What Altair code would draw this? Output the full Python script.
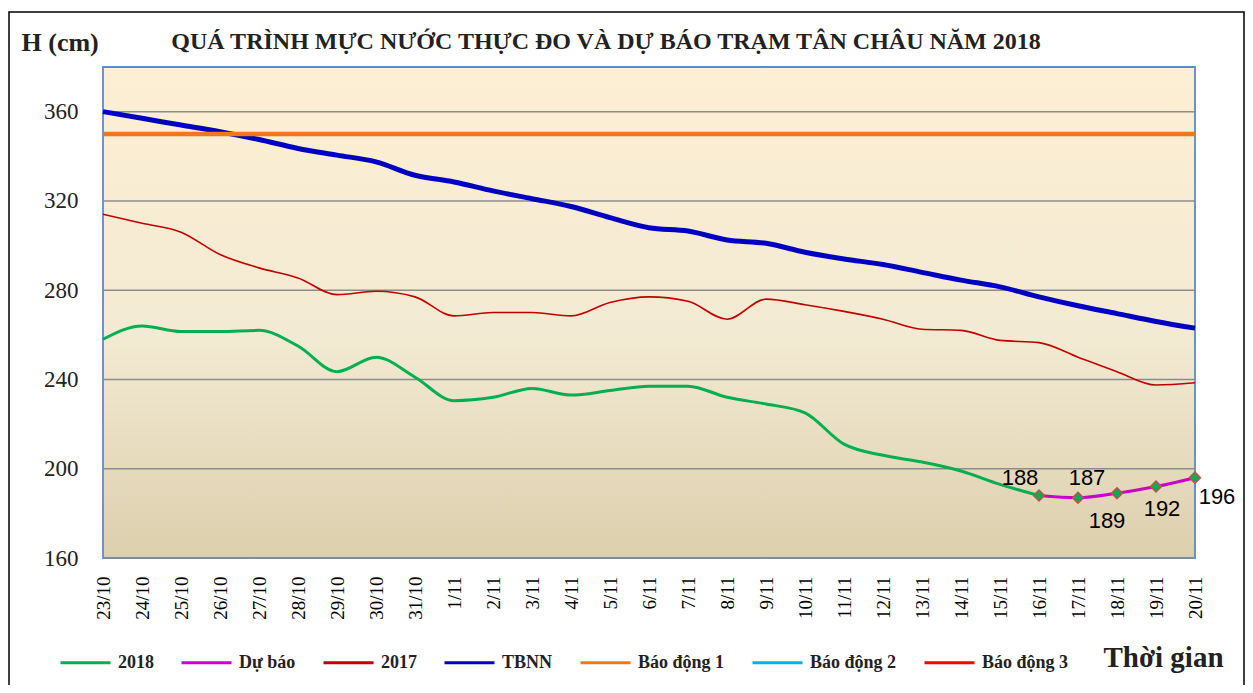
import altair as alt
import pandas as pd

# ---------------- data ----------------
dates = ["23/10", "24/10", "25/10", "26/10", "27/10", "28/10", "29/10", "30/10", "31/10",
         "1/11", "2/11", "3/11", "4/11", "5/11", "6/11", "7/11", "8/11", "9/11", "10/11",
         "11/11", "12/11", "13/11", "14/11", "15/11", "16/11", "17/11", "18/11", "19/11", "20/11"]

h_2018 = [258, 264, 261.5, 261.5, 262, 255, 243.5, 250, 241, 230.5, 232, 236, 233,
          235, 237, 237, 232, 229, 225, 211, 206, 203, 199, 193, 188]

h_2017 = [314, 310, 306, 296, 290, 285.5, 278, 279.5, 277, 268.5, 270, 270, 268.5,
          274.5, 277, 275, 267, 276, 273.5, 270.5, 267, 262.5, 262, 257.5, 256.5,
          250, 243.5, 237.5, 238.5]

h_tbnn = [360, 357, 354, 351, 347.5, 343.5, 340.5, 337.5, 331.5, 328.5, 324.5, 321, 317.5,
          312.5, 308, 306.5, 302.5, 301, 297, 294, 291.5, 288, 284.5, 281.5, 277,
          273, 269.5, 266, 263]

fc_dates = ["16/11", "17/11", "18/11", "19/11", "20/11"]
h_forecast = [188, 187, 189, 192, 196]

bd1_level = 350
y_ticks = [160, 200, 240, 280, 320, 360]

series_names = ["2018", "Dự báo", "2017", "TBNN", "Báo động 1", "Báo động 2", "Báo động 3"]
series_colors = ["#00B050", "#CC00CC", "#C00000", "#0000C0", "#F07818", "#00B0F0", "#FF0000"]

title_text = "QUÁ TRÌNH MỰC NƯỚC THỰC ĐO VÀ DỰ BÁO TRẠM TÂN CHÂU NĂM 2018"

# ---------------- tables ----------------
rows = []
rows += [{"date": d, "H": v, "series": "2018"} for d, v in zip(dates, h_2018)]
rows += [{"date": d, "H": v, "series": "2017"} for d, v in zip(dates, h_2017)]
rows += [{"date": d, "H": v, "series": "TBNN"} for d, v in zip(dates, h_tbnn)]
rows += [{"date": d, "H": bd1_level, "series": "Báo động 1"} for d in dates]
rows += [{"date": d, "H": v, "series": "Dự báo"} for d, v in zip(fc_dates, h_forecast)]
df = pd.DataFrame(rows)
fc_df = pd.DataFrame({"date": fc_dates, "H": h_forecast})
grid_df = pd.DataFrame({"H": y_ticks})

SERIF = "Liberation Serif"

x_enc = alt.X("date:N", sort=dates, scale=alt.Scale(type="point", padding=0),
              axis=alt.Axis(title="Thời gian", labelAngle=-90, labelFont=SERIF, labelFontSize=19,
                            labelColor="black", labelPadding=18, ticks=False, domain=False, grid=False,
                            titleFont=SERIF, titleFontSize=29, titleFontWeight="bold", titleColor="#222222",
                            titleX=1000, titleY=99, titleAlign="left", titleBaseline="middle"))
y_enc = alt.Y("H:Q", scale=alt.Scale(domain=[160, 380], nice=False, zero=False),
              axis=alt.Axis(values=y_ticks, labelAlign="right", labelPadding=25, tickSize=0, ticks=False,
                            domain=False, grid=False, labelFont=SERIF, labelFontSize=23, labelColor="#222222",
                            title="H (cm)", titleAngle=0, titleX=-82, titleY=-25, titleAlign="left",
                            titleBaseline="middle", titleFont=SERIF, titleFontSize=26,
                            titleFontWeight="bold", titleColor="#222222"))

color_enc = alt.Color("series:N", scale=alt.Scale(domain=series_names, range=series_colors),
                      legend=alt.Legend(title=None, orient="none", legendX=-44, legendY=569,
                                        direction="horizontal", columns=7, symbolType="stroke",
                                        symbolSize=2500, symbolStrokeWidth=3, labelFont=SERIF,
                                        labelFontSize=18, labelFontWeight="bold", labelColor="#222222",
                                        labelOffset=6, columnPadding=21))

gradient = alt.LinearGradient(
    gradient="linear", x1=0, x2=0, y1=0, y2=1,
    stops=[alt.GradientStop(color="#FDEFD3", offset=0),
           alt.GradientStop(color="#F3EAD3", offset=0.55),
           alt.GradientStop(color="#DCCFAD", offset=1)])

one_row = alt.Data(values=[{}])

background = alt.Chart(one_row).mark_rect(fill=gradient).encode(
    x=alt.value(0), x2=alt.value("width"), y=alt.value(0), y2=alt.value("height"))

border = alt.Chart(one_row).mark_rect(filled=False, stroke="#5B8BC9", strokeWidth=1.8).encode(
    x=alt.value(0), x2=alt.value("width"), y=alt.value(0), y2=alt.value("height"))

grid = alt.Chart(grid_df).mark_rule(color="#8C8C8C", strokeWidth=1.5).encode(y=y_enc)

base = alt.Chart(df)


def line_layer(name, width):
    return base.transform_filter(alt.datum.series == name).mark_line(
        strokeWidth=width, interpolate="monotone").encode(x=x_enc, y=y_enc, color=color_enc)


l2017 = line_layer("2017", 1.6)
ltbnn = line_layer("TBNN", 5)
lbd1 = line_layer("Báo động 1", 4.5)
l2018 = line_layer("2018", 3)
lfc = line_layer("Dự báo", 3)

points = alt.Chart(fc_df).mark_point(shape="diamond", filled=True, fill="#00B050", stroke="#C0504D",
                                     strokeWidth=1.5, size=120, opacity=1).encode(x=x_enc, y=y_enc)

# label placements (style only)
label_offsets = {"16/11": (-19, -18), "17/11": (9, -20), "18/11": (-10, 28),
                 "19/11": (6, 22), "20/11": (22, 19)}
labels = []
for d, (ddx, ddy) in label_offsets.items():
    labels.append(alt.Chart(fc_df).transform_filter(alt.datum.date == d).mark_text(
        font="Liberation Sans", fontSize=22, color="black", dx=ddx, dy=ddy).encode(
        x=x_enc, y=y_enc, text=alt.Text("H:Q")))

title = alt.Chart(one_row).mark_text(
    font=SERIF, fontSize=24, fontWeight="bold", color="#222222", align="center", baseline="middle").encode(
    x=alt.value(503), y=alt.value(-25), text=alt.value(title_text))

frame = alt.Chart(one_row).mark_rect(filled=False, stroke="black", strokeWidth=1.5).encode(
    x=alt.value(-94), x2=alt.value(1141), y=alt.value(-55), y2=alt.value(700))

chart = alt.layer(background, border, grid, l2017, ltbnn, lbd1, l2018, lfc, points, *labels,
                  title, frame).properties(
    width=1092, height=491,
    padding={"left": 95, "top": 59, "right": 50, "bottom": 127},
    autosize=alt.AutoSizeParams(type="none"),
).configure_view(stroke="#5B8BC9", strokeWidth=1.5).configure(background="white")

chart.save("out.html", embed_options={"renderer": "svg", "actions": False})
